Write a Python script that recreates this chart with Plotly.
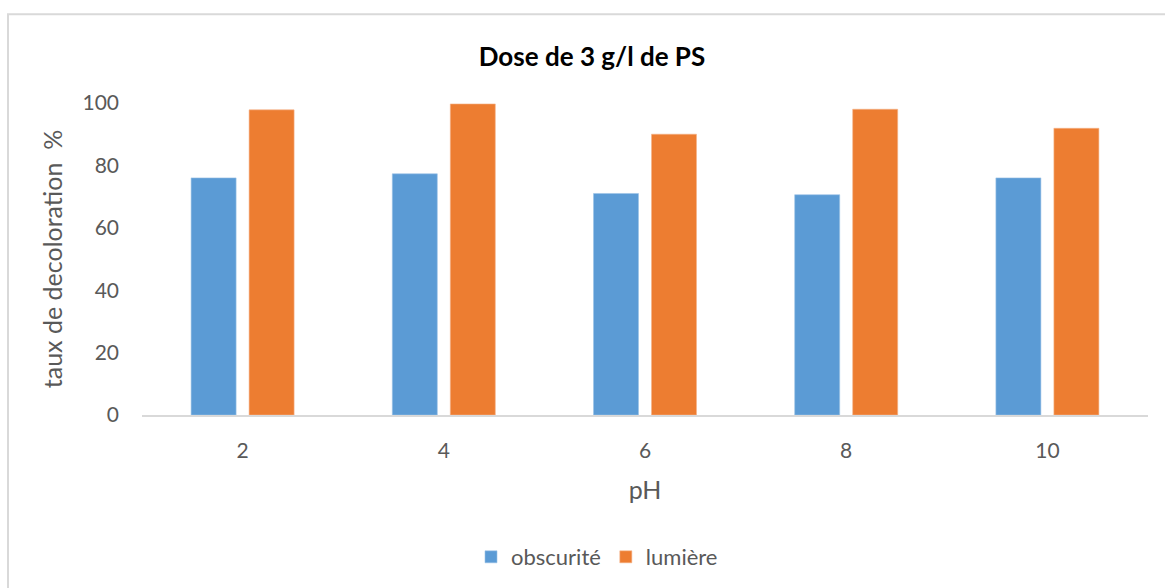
import plotly.graph_objects as go

# Decoloration rate (%) by pH, dark vs. light, 3 g/l PS
ph_labels = ["2", "4", "6", "8", "10"]
obscurite = [76.0, 77.3, 71.0, 70.6, 76.0]
lumiere = [97.8, 99.7, 90.0, 98.0, 91.9]

BLUE = "#5B9BD5"
ORANGE = "#ED7D31"
TXT = "#595959"
FONT = "Lato"

fig = go.Figure()
fig.add_trace(go.Bar(x=ph_labels, y=obscurite, name="obscurité",
                     marker=dict(color=BLUE, line=dict(color="#9cc3e6", width=0.6))))
fig.add_trace(go.Bar(x=ph_labels, y=lumiere, name="lumière",
                     marker=dict(color=ORANGE, line=dict(color="#f5b48a", width=0.6))))

W, H = 1165, 588
ml, mr, mt, mb = 142, W - 1148, 103, H - 416
PW = W - ml - mr

fig.update_layout(
    width=W, height=H,
    margin=dict(l=ml, r=mr, t=mt, b=mb),
    paper_bgcolor="white", plot_bgcolor="white",
    barmode="group", bargap=0.4235, bargroupgap=0.224,
    font=dict(family=FONT, color=TXT, size=21),
    title=dict(text="<b>Dose de 3 g/l de PS</b>", x=592 / W, xanchor="center",
               y=1 - 57 / H, yanchor="middle",
               font=dict(family=FONT, size=26, color="black")),
    showlegend=True,
    legend=dict(orientation="h", x=(597 - ml) / PW, xanchor="center",
                y=-(557 - 416) / (416 - 103), yanchor="middle",
                font=dict(family=FONT, size=22, color=TXT),
                itemwidth=30, traceorder="normal"),
    xaxis=dict(showgrid=False, showline=True, linecolor="#d9d9d9", linewidth=2,
               ticks="", ticklabelstandoff=16, tickfont=dict(size=21, color=TXT),
               title=dict(text="pH", font=dict(size=25, color=TXT), standoff=20)),
    yaxis=dict(range=[0, 100], dtick=20, showgrid=False, zeroline=False,
               showline=False, ticks="", ticklabelstandoff=22,
               tickfont=dict(size=21, color=TXT),
               title=dict(text="taux de decoloration  %", font=dict(size=25, color=TXT),
                          standoff=12)),
)

# Light gray chart-area frame
fig.add_shape(type="rect", xref="paper", yref="paper",
              x0=(8 - ml) / PW, x1=(W + 20 - ml) / PW,
              y0=-(H + 20 - 416) / (416 - 103), y1=(416 - 14) / (416 - 103),
              line=dict(color="#d9d9d9", width=2), fillcolor="rgba(0,0,0,0)",
              layer="below")

fig.write_html("out.html")
